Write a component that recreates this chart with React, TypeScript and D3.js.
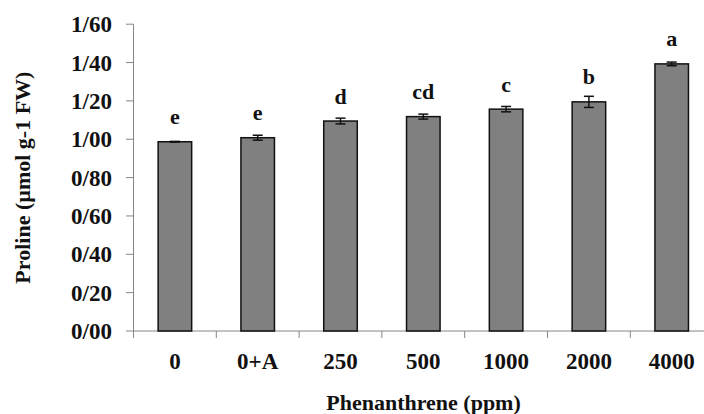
import React from "react";
import * as d3 from "d3";

const categories = ["0", "0+A", "250", "500", "1000", "2000", "4000"];
const prolineValues = [0.987, 1.008, 1.095, 1.118, 1.157, 1.195, 1.393];
const errorValues = [0.002, 0.013, 0.015, 0.013, 0.014, 0.029, 0.0095];
const groupLetters = ["e", "e", "d", "cd", "c", "b", "a"];
const yTicks = [0, 0.2, 0.4, 0.6, 0.8, 1.0, 1.2, 1.4, 1.6];

const W = 704;
const H = 414;
const FONT = "'Liberation Serif', 'Times New Roman', Times, serif";
const AXIS = "#868686";

export default function App() {
  const y = d3.scaleLinear().domain([0, 1.6]).range([331, 24.2]);
  const x = d3
    .scaleBand<string>()
    .domain(categories)
    .range([133.5, 713.1])
    .paddingInner(0.595)
    .paddingOuter(0.2975);
  const bw = x.bandwidth();
  const step = x.step();
  const fmt = (v: number) => d3.format(".2f")(v).replace(".", "/");
  const x0 = 133.5;
  const y0 = y(0);
  const boundaries = d3.range(categories.length + 1).map((i) => x0 + i * step);

  return (
    <svg
      width={W}
      height={H}
      style={{ position: "absolute", left: 0, top: 0, background: "#fff" }}
      fontFamily={FONT}
      fontWeight="bold"
    >
      {/* y axis */}
      <line x1={x0} x2={x0} y1={y(1.6)} y2={y0} stroke={AXIS} strokeWidth={1} />
      {yTicks.map((t) => (
        <g key={t}>
          <line x1={126} x2={x0} y1={y(t)} y2={y(t)} stroke={AXIS} strokeWidth={1} />
          <text x={112} y={y(t) + 8} textAnchor="end" fontSize={23} fill="#111">
            {fmt(t)}
          </text>
        </g>
      ))}
      {/* x axis */}
      <line x1={x0} x2={W} y1={y0} y2={y0} stroke={AXIS} strokeWidth={1} />
      {boundaries.map((b, i) => (
        <line key={i} x1={b} x2={b} y1={y0} y2={y0 + 7} stroke={AXIS} strokeWidth={1} />
      ))}
      {/* bars */}
      {categories.map((c, i) => {
        const xc = (x(c) as number) + bw / 2;
        const v = prolineValues[i];
        const e = errorValues[i];
        return (
          <g key={c}>
            <rect
              x={x(c)}
              y={y(v)}
              width={bw}
              height={y0 - y(v)}
              fill="#808080"
              stroke="#111"
              strokeWidth={1.5}
            />
            <line x1={xc} x2={xc} y1={y(v + e)} y2={y(v - e)} stroke="#111" strokeWidth={1.5} />
            <line x1={xc - 5} x2={xc + 5} y1={y(v + e)} y2={y(v + e)} stroke="#111" strokeWidth={1.5} />
            <line x1={xc - 5} x2={xc + 5} y1={y(v - e)} y2={y(v - e)} stroke="#111" strokeWidth={1.5} />
            <text x={xc} y={y(v) - 17.5} textAnchor="middle" fontSize={22} fill="#111">
              {groupLetters[i]}
            </text>
            <text x={xc} y={368.5} textAnchor="middle" fontSize={23} fill="#111">
              {c}
            </text>
          </g>
        );
      })}
      {/* titles */}
      <text x={423.5} y={410} textAnchor="middle" fontSize={22} fill="#111">
        Phenanthrene (ppm)
      </text>
      <text
        transform={`translate(29.5,${(y(0) + y(1.6)) / 2}) rotate(-90)`}
        textAnchor="middle"
        fontSize={22}
        fill="#111"
      >
        Proline (µmol g-1 FW)
      </text>
    </svg>
  );
}
